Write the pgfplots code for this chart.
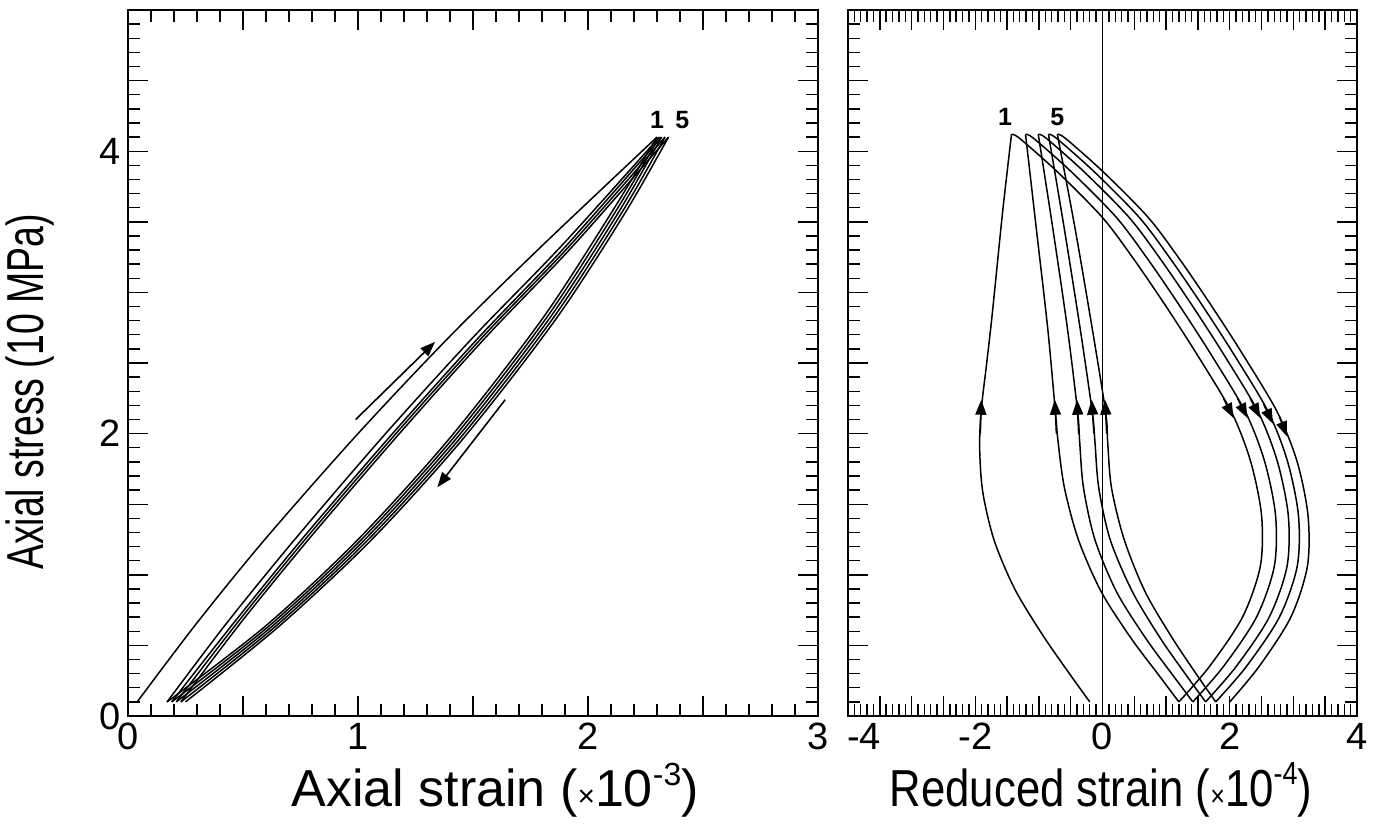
\documentclass[border=0pt]{standalone}
\usepackage{fontspec}
\setmainfont{Liberation Sans}
\usepackage{graphicx}
\usepackage{pgfplots}
\pgfplotsset{compat=1.18}
\usetikzlibrary{arrows.meta}

\pgfplotsset{
  panel/.style={
    scale only axis, height=353pt, ymin=0, ymax=5,
    tick align=inside, tick pos=both,
    xticklabel pos=lower, yticklabel pos=left,
    major tick length=10pt, minor tick length=6pt,
    tick style={black, line width=0.7pt},
    axis line style={line width=1pt},
    ytick={0,2,4},
    extra y ticks={0.5,1,1.5,2.5,3,3.5,4.5},
    extra y tick labels={},
    extra y tick style={grid=none},
    extra x tick style={grid=none},
    extra x tick labels={},
    minor ytick={0,0.1,...,5},
    tick label style={font=\fontsize{19}{19}\selectfont},
    /pgf/number format/assume math mode=true,
    label style={font=\fontsize{26}{26}\selectfont},
  },
  cyc/.style={black, line width=0.75pt, smooth, mark=none},
  arr/.style={black, line width=0.75pt, mark=none, -{Triangle[length=7.5pt,width=5.5pt]}},
}

\begin{document}
\begin{tikzpicture}
\useasboundingbox (0,0) rectangle (687pt,416pt);

% ---------------- left panel ----------------
\begin{axis}[panel,
  at={(64pt,58pt)}, anchor=south west, width=345pt,
  xmin=0, xmax=3,
  xtick={0,1,2,3},
  extra x ticks={0.5,1.5,2.5},
  minor xtick={0,0.1,...,3},
  xlabel={Axial strain ({\fontsize{15}{15}\selectfont ×}10\raisebox{0.42em}{\fontsize{16}{16}\selectfont -3})},
  ylabel={\scalebox{0.72}[1]{Axial stress (10 MPa)}},
  xlabel style={at={(axis description cs:0.532,-0.105)}, anchor=center},
  ylabel style={at={(axis description cs:-0.142,0.459)}, anchor=center},
]
% cycle 1
\addplot[black, line width=0.75pt] coordinates {(0.00,0.10)(0.04,0.10)};
\addplot[cyc] coordinates {(0.04,0.10)(0.30,0.66)(0.60,1.26)(1.00,2.00)(1.40,2.69)(1.80,3.33)(2.30,4.10)};
\addplot[cyc] coordinates {(2.30,4.10)(2.10,3.56)(1.80,2.81)(1.40,1.97)(1.00,1.25)(0.60,0.64)(0.17,0.10)};
% cycle 2
\addplot[cyc] coordinates {(0.17,0.10)(0.43,0.66)(0.73,1.26)(1.12,2.00)(1.505,2.69)(1.885,3.33)(2.31,4.10)};
\addplot[cyc] coordinates {(2.31,4.10)(2.115,3.56)(1.815,2.81)(1.415,1.97)(1.015,1.25)(0.615,0.64)(0.19,0.10)};
% cycle 3
\addplot[cyc] coordinates {(0.19,0.10)(0.46,0.66)(0.76,1.26)(1.15,2.00)(1.53,2.69)(1.905,3.33)(2.32,4.10)};
\addplot[cyc] coordinates {(2.32,4.10)(2.13,3.56)(1.83,2.81)(1.43,1.97)(1.03,1.25)(0.63,0.64)(0.21,0.10)};
% cycle 4
\addplot[cyc] coordinates {(0.21,0.10)(0.475,0.66)(0.775,1.26)(1.165,2.00)(1.545,2.69)(1.92,3.33)(2.335,4.10)};
\addplot[cyc] coordinates {(2.335,4.10)(2.145,3.56)(1.845,2.81)(1.445,1.97)(1.045,1.25)(0.645,0.64)(0.23,0.10)};
% cycle 5
\addplot[cyc] coordinates {(0.23,0.10)(0.49,0.66)(0.79,1.26)(1.18,2.00)(1.56,2.69)(1.935,3.33)(2.35,4.10)};
\addplot[cyc] coordinates {(2.35,4.10)(2.16,3.56)(1.86,2.81)(1.46,1.97)(1.06,1.25)(0.66,0.64)(0.25,0.10)};
% direction arrows
\addplot[arr, line width=0.8pt] coordinates {(0.99,2.10)(1.335,2.65)};
\addplot[arr, line width=0.8pt] coordinates {(1.64,2.24)(1.345,1.62)};
\node[font=\bfseries\fontsize{12.5}{12.5}\selectfont] at (axis cs:2.30,4.22) {1};
\node[font=\bfseries\fontsize{12.5}{12.5}\selectfont] at (axis cs:2.41,4.22) {5};
\end{axis}

% ---------------- right panel ----------------
\begin{axis}[panel,
  at={(424pt,58pt)}, anchor=south west, width=254.5pt,
  xmin=-4, xmax=4,
  xtick={-4,-2,0,2,4},
  xticklabels={\hspace*{16pt}-4,-2,0,2,4},
  yticklabels={,,},
  extra x ticks={-3.5,-3,-2.5,-1.5,-1,-0.5,0.5,1,1.5,2.5,3,3.5},
  minor xtick={-4,-3.9,...,4},
  xlabel={\scalebox{0.84}[1]{Reduced strain ({\fontsize{15}{15}\selectfont ×}10\raisebox{0.42em}{\fontsize{16}{16}\selectfont -4})}},
  xlabel style={at={(axis description cs:0.497,-0.105)}, anchor=center},
]
\addplot[black, line width=0.75pt] coordinates {(0,0)(0,5)};
% loading branches
\addplot[cyc] coordinates {(-0.20,0.10)(-0.52,0.30)(-0.95,0.58)(-1.38,0.90)(-1.70,1.24)(-1.88,1.58)(-1.93,1.88)(-1.91,2.15)(-1.82,2.50)(-1.73,2.86)(-1.57,3.57)(-1.43,4.12)};
\addplot[cyc] coordinates {(1.20,0.10)(0.90,0.28)(0.45,0.55)(-0.02,0.88)(-0.38,1.25)(-0.60,1.62)(-0.70,1.95)(-0.74,2.15)(-0.86,2.74)(-1.04,3.45)(-1.21,4.12)};
\addplot[cyc] coordinates {(1.42,0.10)(1.12,0.28)(0.68,0.55)(0.22,0.88)(-0.12,1.25)(-0.30,1.62)(-0.36,1.95)(-0.39,2.15)(-0.55,2.74)(-0.78,3.45)(-1.01,4.12)};
\addplot[cyc] coordinates {(1.62,0.10)(1.33,0.28)(0.91,0.55)(0.47,0.88)(0.12,1.25)(-0.06,1.62)(-0.12,1.95)(-0.16,2.15)(-0.35,2.74)(-0.60,3.45)(-0.85,4.12)};
\addplot[cyc] coordinates {(1.78,0.10)(1.50,0.28)(1.10,0.55)(0.67,0.88)(0.34,1.25)(0.14,1.62)(0.08,1.95)(0.05,2.15)(-0.16,2.74)(-0.43,3.45)(-0.71,4.12)};
% unloading branches
\addplot[cyc] coordinates {(-1.43,4.12)(-1.30,4.09)(-0.70,3.85)(0.00,3.53)(0.50,3.23)(1.00,2.90)(1.50,2.55)(2.03,2.15)(2.33,1.80)(2.50,1.42)(2.48,1.06)(2.20,0.70)(1.68,0.35)(1.20,0.10)};
\addplot[cyc] coordinates {(-1.21,4.12)(-1.08,4.09)(-0.48,3.85)(0.22,3.53)(0.72,3.23)(1.22,2.90)(1.72,2.55)(2.25,2.15)(2.55,1.80)(2.72,1.42)(2.70,1.06)(2.42,0.70)(1.90,0.35)(1.42,0.10)};
\addplot[cyc] coordinates {(-1.01,4.12)(-0.88,4.09)(-0.28,3.85)(0.42,3.53)(0.92,3.23)(1.42,2.90)(1.92,2.55)(2.45,2.15)(2.75,1.80)(2.92,1.42)(2.90,1.06)(2.62,0.70)(2.10,0.35)(1.62,0.10)};
\addplot[cyc] coordinates {(-0.85,4.12)(-0.72,4.09)(-0.12,3.85)(0.58,3.53)(1.08,3.23)(1.58,2.90)(2.08,2.55)(2.61,2.15)(2.91,1.80)(3.08,1.42)(3.06,1.06)(2.78,0.70)(2.26,0.35)(1.78,0.10)};
\addplot[cyc] coordinates {(-0.71,4.12)(-0.58,4.09)(0.02,3.85)(0.72,3.53)(1.22,3.23)(1.72,2.90)(2.22,2.55)(2.75,2.15)(3.06,1.80)(3.23,1.42)(3.22,1.06)(2.96,0.70)(2.46,0.35)(2.00,0.10)};
% arrows on loading branches (up)
\addplot[arr] coordinates {(-1.92,2.00)(-1.905,2.24)};
\addplot[arr] coordinates {(-0.725,2.00)(-0.75,2.24)};
\addplot[arr] coordinates {(-0.375,2.00)(-0.40,2.24)};
\addplot[arr] coordinates {(-0.135,2.00)(-0.17,2.24)};
\addplot[arr] coordinates {(0.065,2.00)(0.04,2.24)};
% arrows on unloading branches (down)
\addplot[arr] coordinates {(1.90,2.25)(2.06,2.11)};
\addplot[arr] coordinates {(2.12,2.25)(2.28,2.11)};
\addplot[arr] coordinates {(2.32,2.25)(2.48,2.11)};
\addplot[arr] coordinates {(2.53,2.21)(2.68,2.07)};
\addplot[arr] coordinates {(2.78,2.12)(2.90,1.98)};
\node[font=\bfseries\fontsize{12.5}{12.5}\selectfont] at (axis cs:-1.53,4.24) {1};
\node[font=\bfseries\fontsize{12.5}{12.5}\selectfont] at (axis cs:-0.71,4.24) {5};
\end{axis}
\end{tikzpicture}
\end{document}
